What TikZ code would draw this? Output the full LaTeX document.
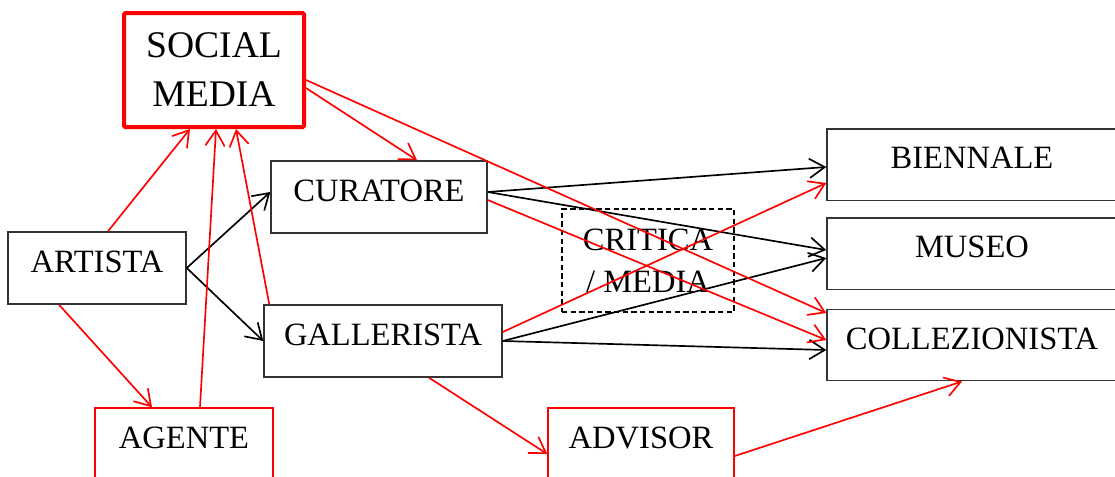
\documentclass[tikz,border=0pt]{standalone}
\usepackage{fontspec}
\setmainfont{Liberation Serif}
\usetikzlibrary{arrows.meta,calc}
\definecolor{boxgray}{HTML}{333333}
\begin{document}
\begin{tikzpicture}[x=0.75pt,y=-0.75pt,
  lbl/.style={font=\fontsize{24.4pt}{31.5pt}\selectfont,inner sep=0pt,align=center},
  box/.style={lbl,draw=boxgray,line width=1.1pt,text depth=9.75pt},
  redbox/.style={box,draw=red},
  smbox/.style={draw=red,line width=3pt,rounded corners=1pt,inner sep=0pt,align=center,
    font=\fontsize{28.2pt}{36.75pt}\selectfont},
  dashbox/.style={lbl,draw=black,line width=0.8pt,dash pattern=on 4pt off 2.5pt},
  blk/.style={draw=black,line width=1.25pt,-{Straight Barb[length=11.5pt,width=14.5pt]}},
  redl/.style={blk,draw=red}]
\useasboundingbox (0,0) rectangle (1115,476);
\fill[white] (0,0) rectangle (1115,476);
\clip (0,0) rectangle (1115,476);

% nodes
\node[smbox,minimum width=135pt,minimum height=85.5pt] (sm) at (214,70) {SOCIAL\\MEDIA};
\node[box,minimum width=162pt,minimum height=54pt] (cur) at (379,197) {CURATORE};
\node[box,minimum width=133.5pt,minimum height=54pt] (art) at (97,268) {ARTISTA};
\node[box,minimum width=178.5pt,minimum height=54pt] (gal) at (383,341) {GALLERISTA};
\node[redbox,minimum width=133.5pt,minimum height=54pt] (age) at (184,444) {AGENTE};
\node[redbox,minimum width=139.5pt,minimum height=54pt] (adv) at (641,444) {ADVISOR};
\node[box,minimum width=217.5pt,minimum height=53.6pt] (bie) at (972,164.5) {BIENNALE};
\node[box,minimum width=217.5pt,minimum height=53.6pt] (mus) at (972,253.5) {MUSEO};
\node[box,minimum width=217.5pt,minimum height=53.6pt] (col) at (972,345) {COLLEZIONISTA};
\node[dashbox,minimum width=129pt,minimum height=77.25pt] (cri) at (648,260.5) {CRITICA\\/ MEDIA};

% black connectors
\draw[blk] (art.east) -- ($(cur.west)+(0,-5)$);
\draw[blk] (art.east) -- (gal.west);
\draw[blk] ($(cur.east)+(0,-5)$) -- ($(bie.west)+(0,2.5)$);
\draw[blk] ($(cur.east)+(0,-5)$) -- ($(mus.west)+(0,-3.5)$);
\draw[blk] (gal.east) -- ($(mus.west)+(0,4.5)$);
\draw[blk] (gal.east) -- ($(col.west)+(0,5)$);

% red connectors
\draw[redl] ($(art.north)+(11,0)$) -- ($(sm.south)+(-24,0)$);
\draw[redl] ($(age.north)+(16,0)$) -- ($(sm.south)+(2,0)$);
\draw[redl] ($(gal.north west)+(6,0)$) -- ($(sm.south)+(22,0)$);
\draw[redl] ($(sm.east)+(0,18)$) -- ($(cur.north)+(38,0)$);
\draw[redl] ($(sm.east)+(0,10)$) -- ($(col.west)+(0,-32)$);
\draw[redl] ($(cur.east)+(0,3)$) -- ($(col.west)+(0,-5)$);
\draw[redl] ($(gal.east)+(0,-9)$) -- ($(bie.west)+(0,18.5)$);
\draw[redl] ($(art.south)+(-38,0)$) -- ($(age.north)+(-32,0)$);
\draw[redl] ($(gal.south)+(46,0)$) -- ($(adv.west)+(0,10)$);
\draw[redl] ($(adv.east)+(0,12)$) -- ($(col.south)+(-10,0)$);
\end{tikzpicture}
\end{document}
